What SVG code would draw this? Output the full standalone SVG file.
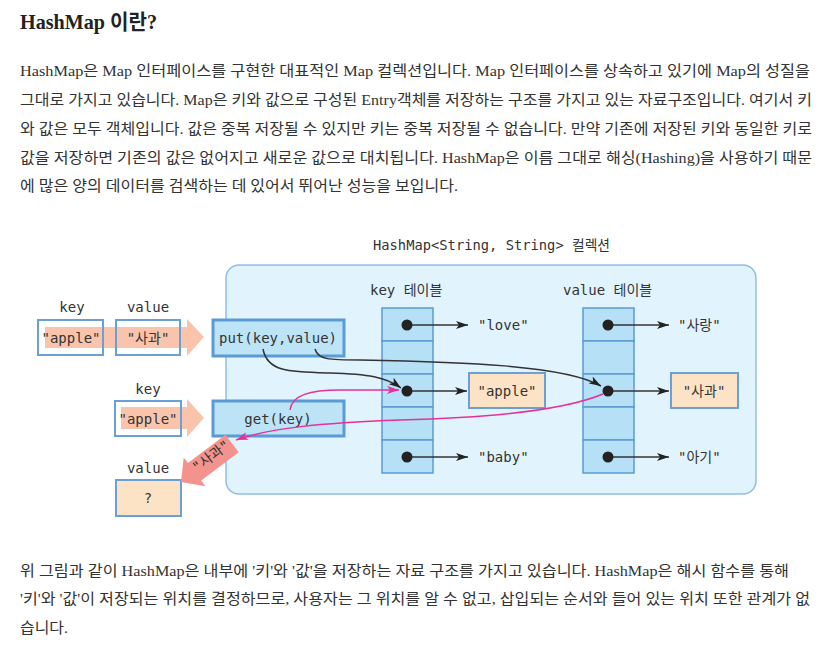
<svg xmlns="http://www.w3.org/2000/svg" width="827" height="654" viewBox="0 0 827 654">
<defs>
<style>
.body{font-family:"Liberation Serif","Noto Sans CJK KR",serif;font-size:15px;fill:#333}
.title{font-family:"Liberation Serif","Noto Sans CJK KR",serif;font-size:21px;fill:#222;font-weight:600}
.m{font-family:"DejaVu Sans Mono","Noto Sans CJK KR",monospace;font-size:14px;fill:#333}
.mc{font-family:"DejaVu Sans Mono","Noto Sans CJK KR",monospace;font-size:14px;fill:#333;text-anchor:middle}
.row{fill:#b5e0f6;stroke:#5b9bd5;stroke-width:1.5}
.pbox{fill:#fde3c5;stroke:#6a9fd8;stroke-width:2}
.wbox{fill:none;stroke:#6a9fd8;stroke-width:2}
.fbox{fill:#bde3f7;stroke:#5b9bd5;stroke-width:3}
.dot{fill:#222}
.k{stroke:#333;stroke-width:1.5;fill:none;marker-end:url(#ah)}
.p{stroke:#e8309a;stroke-width:1.5;fill:none;marker-end:url(#ahp)}
.salmon{fill:#f9c4ab}
</style>
<marker id="ah" viewBox="0 0 12 8" refX="12" refY="4" markerWidth="12" markerHeight="8" markerUnits="userSpaceOnUse" orient="auto"><path d="M0,0 L12,4 L0,8 L3,4 z" fill="#222"/></marker>
<marker id="ahp" viewBox="0 0 12 8" refX="12" refY="4" markerWidth="12" markerHeight="8" markerUnits="userSpaceOnUse" orient="auto"><path d="M0,0 L12,4 L0,8 L3,4 z" fill="#e8309a"/></marker>
</defs>
<rect width="827" height="654" fill="#fff"/>

<g id="text-top">
<text class="title" x="20" y="29" textLength="137" lengthAdjust="spacingAndGlyphs">HashMap 이란?</text>
<text class="body" x="20" y="76" textLength="790" lengthAdjust="spacingAndGlyphs">HashMap은 Map 인터페이스를 구현한 대표적인 Map 컬렉션입니다. Map 인터페이스를 상속하고 있기에 Map의 성질을</text>
<text class="body" x="20" y="105" textLength="792" lengthAdjust="spacingAndGlyphs">그대로 가지고 있습니다. Map은 키와 값으로 구성된 Entry객체를 저장하는 구조를 가지고 있는 자료구조입니다. 여기서 키</text>
<text class="body" x="20" y="134" textLength="792" lengthAdjust="spacingAndGlyphs">와 값은 모두 객체입니다. 값은 중복 저장될 수 있지만 키는 중복 저장될 수 없습니다. 만약 기존에 저장된 키와 동일한 키로</text>
<text class="body" x="20" y="163" textLength="792" lengthAdjust="spacingAndGlyphs">값을 저장하면 기존의 값은 없어지고 새로운 값으로 대치됩니다. HashMap은 이름 그대로 해싱(Hashing)을 사용하기 때문</text>
<text class="body" x="20" y="191" textLength="438" lengthAdjust="spacingAndGlyphs">에 많은 양의 데이터를 검색하는 데 있어서 뛰어난 성능을 보입니다.</text>
</g>

<g id="text-bottom">
<text class="body" x="20" y="576" textLength="769" lengthAdjust="spacingAndGlyphs">위 그림과 같이 HashMap은 내부에 '키'와 '값'을 저장하는 자료 구조를 가지고 있습니다. HashMap은 해시 함수를 통해</text>
<text class="body" x="20" y="604" textLength="790" lengthAdjust="spacingAndGlyphs">'키'와 '값'이 저장되는 위치를 결정하므로, 사용자는 그 위치를 알 수 없고, 삽입되는 순서와 들어 있는 위치 또한 관계가 없</text>
<text class="body" x="20" y="633" textLength="48" lengthAdjust="spacingAndGlyphs">습니다.</text>
</g>

<g id="container">
<rect x="226" y="265" width="530" height="229" rx="13" fill="#e1f3fd" stroke="#92bde6" stroke-width="1.5"/>
<text class="m" x="373" y="250" textLength="237" lengthAdjust="spacingAndGlyphs">HashMap&lt;String, String&gt; 컬렉션</text>
</g>

<g id="key-table">
<text class="m" x="370" y="295">key 테이블</text>
<rect class="row" x="382" y="308" width="51" height="33"/>
<rect class="row" x="382" y="341" width="51" height="33"/>
<rect class="row" x="382" y="374" width="51" height="33"/>
<rect class="row" x="382" y="407" width="51" height="33"/>
<rect class="row" x="382" y="440" width="51" height="33"/>
</g>

<g id="value-table">
<text class="m" x="563" y="295">value 테이블</text>
<rect class="row" x="583" y="308" width="51" height="33"/>
<rect class="row" x="583" y="341" width="51" height="33"/>
<rect class="row" x="583" y="374" width="51" height="33"/>
<rect class="row" x="583" y="407" width="51" height="33"/>
<rect class="row" x="583" y="440" width="51" height="33"/>
</g>

<g id="key-apple">
<rect class="pbox" x="469" y="373" width="76" height="35"/>
<text class="mc" x="507" y="396">"apple"</text>
</g>
<g id="value-sagwa">
<rect class="pbox" x="671" y="373" width="67" height="35"/>
<text class="mc" x="704" y="396">"사과"</text>
</g>
<g id="key-love"><text class="m" x="478" y="330">"love"</text></g>
<g id="key-baby"><text class="m" x="478" y="462">"baby"</text></g>
<g id="value-sarang"><text class="m" x="678" y="330">"사랑"</text></g>
<g id="value-agi"><text class="m" x="678" y="462">"아기"</text></g>

<g id="put-input">
<text class="mc" x="72" y="312">key</text>
<text class="mc" x="148" y="312">value</text>
<polygon class="salmon" points="45,327 187,327 187,319 204,337 187,356 187,348 45,348"/>
<rect class="wbox" x="38" y="320" width="65" height="35"/>
<rect class="wbox" x="116" y="320" width="64" height="35"/>
<text class="mc" x="71" y="343">"apple"</text>
<text class="mc" x="148" y="343">"사과"</text>
</g>

<g id="get-input">
<text class="mc" x="148" y="394">key</text>
<polygon class="salmon" points="121,407 187,407 187,399 204,418 187,437 187,429 121,429"/>
<rect class="wbox" x="115" y="401" width="66" height="35"/>
<text class="mc" x="148" y="424">"apple"</text>
</g>

<g id="put">
<rect class="fbox" x="213" y="320" width="131" height="36"/>
<text class="mc" x="278" y="343">put(key,value)</text>
</g>
<g id="get">
<rect class="fbox" x="213" y="401" width="131" height="35"/>
<text class="mc" x="278" y="424">get(key)</text>
</g>

<g id="result">
<text class="mc" x="148" y="473">value</text>
<rect class="pbox" x="116" y="480" width="65" height="36"/>
<text class="mc" x="148" y="503">?</text>
</g>

<g id="connectors">
<g transform="translate(181,482) rotate(143)">
<polygon points="-64,-11 -17,-11 -17,-18 0,0 -17,18 -17,11 -64,11" fill="#f4938d"/>
</g>
<text class="mc" font-size="13" transform="translate(211,456) rotate(-37)" y="5">"사과"</text>
<line class="k" x1="407" y1="325" x2="468" y2="325"/>
<line class="k" x1="407" y1="391" x2="467" y2="391"/>
<line class="k" x1="407" y1="457" x2="468" y2="457"/>
<line class="k" x1="608" y1="325" x2="669" y2="325"/>
<line class="k" x1="608" y1="391" x2="669" y2="391"/>
<line class="k" x1="608" y1="457" x2="669" y2="457"/>
<path class="k" d="M263,349 C267,372 290,372 330,373 C368,374 386,377 401,388"/>
<path class="k" d="M315,349 C318,360 330,360 360,360 C460,362 565,365 601,386"/>
<path class="p" d="M290,410 C292,395 310,390 340,390 L399,390"/>
<path class="p" d="M603,394 C560,412 480,418 400,420 C320,423 270,428 236,440"/>
<circle class="dot" cx="407" cy="325" r="5.5"/>
<circle class="dot" cx="407" cy="391" r="5.5"/>
<circle class="dot" cx="407" cy="457" r="5.5"/>
<circle class="dot" cx="608" cy="325" r="5.5"/>
<circle class="dot" cx="608" cy="391" r="5.5"/>
<circle class="dot" cx="608" cy="457" r="5.5"/>
</g>
</svg>
